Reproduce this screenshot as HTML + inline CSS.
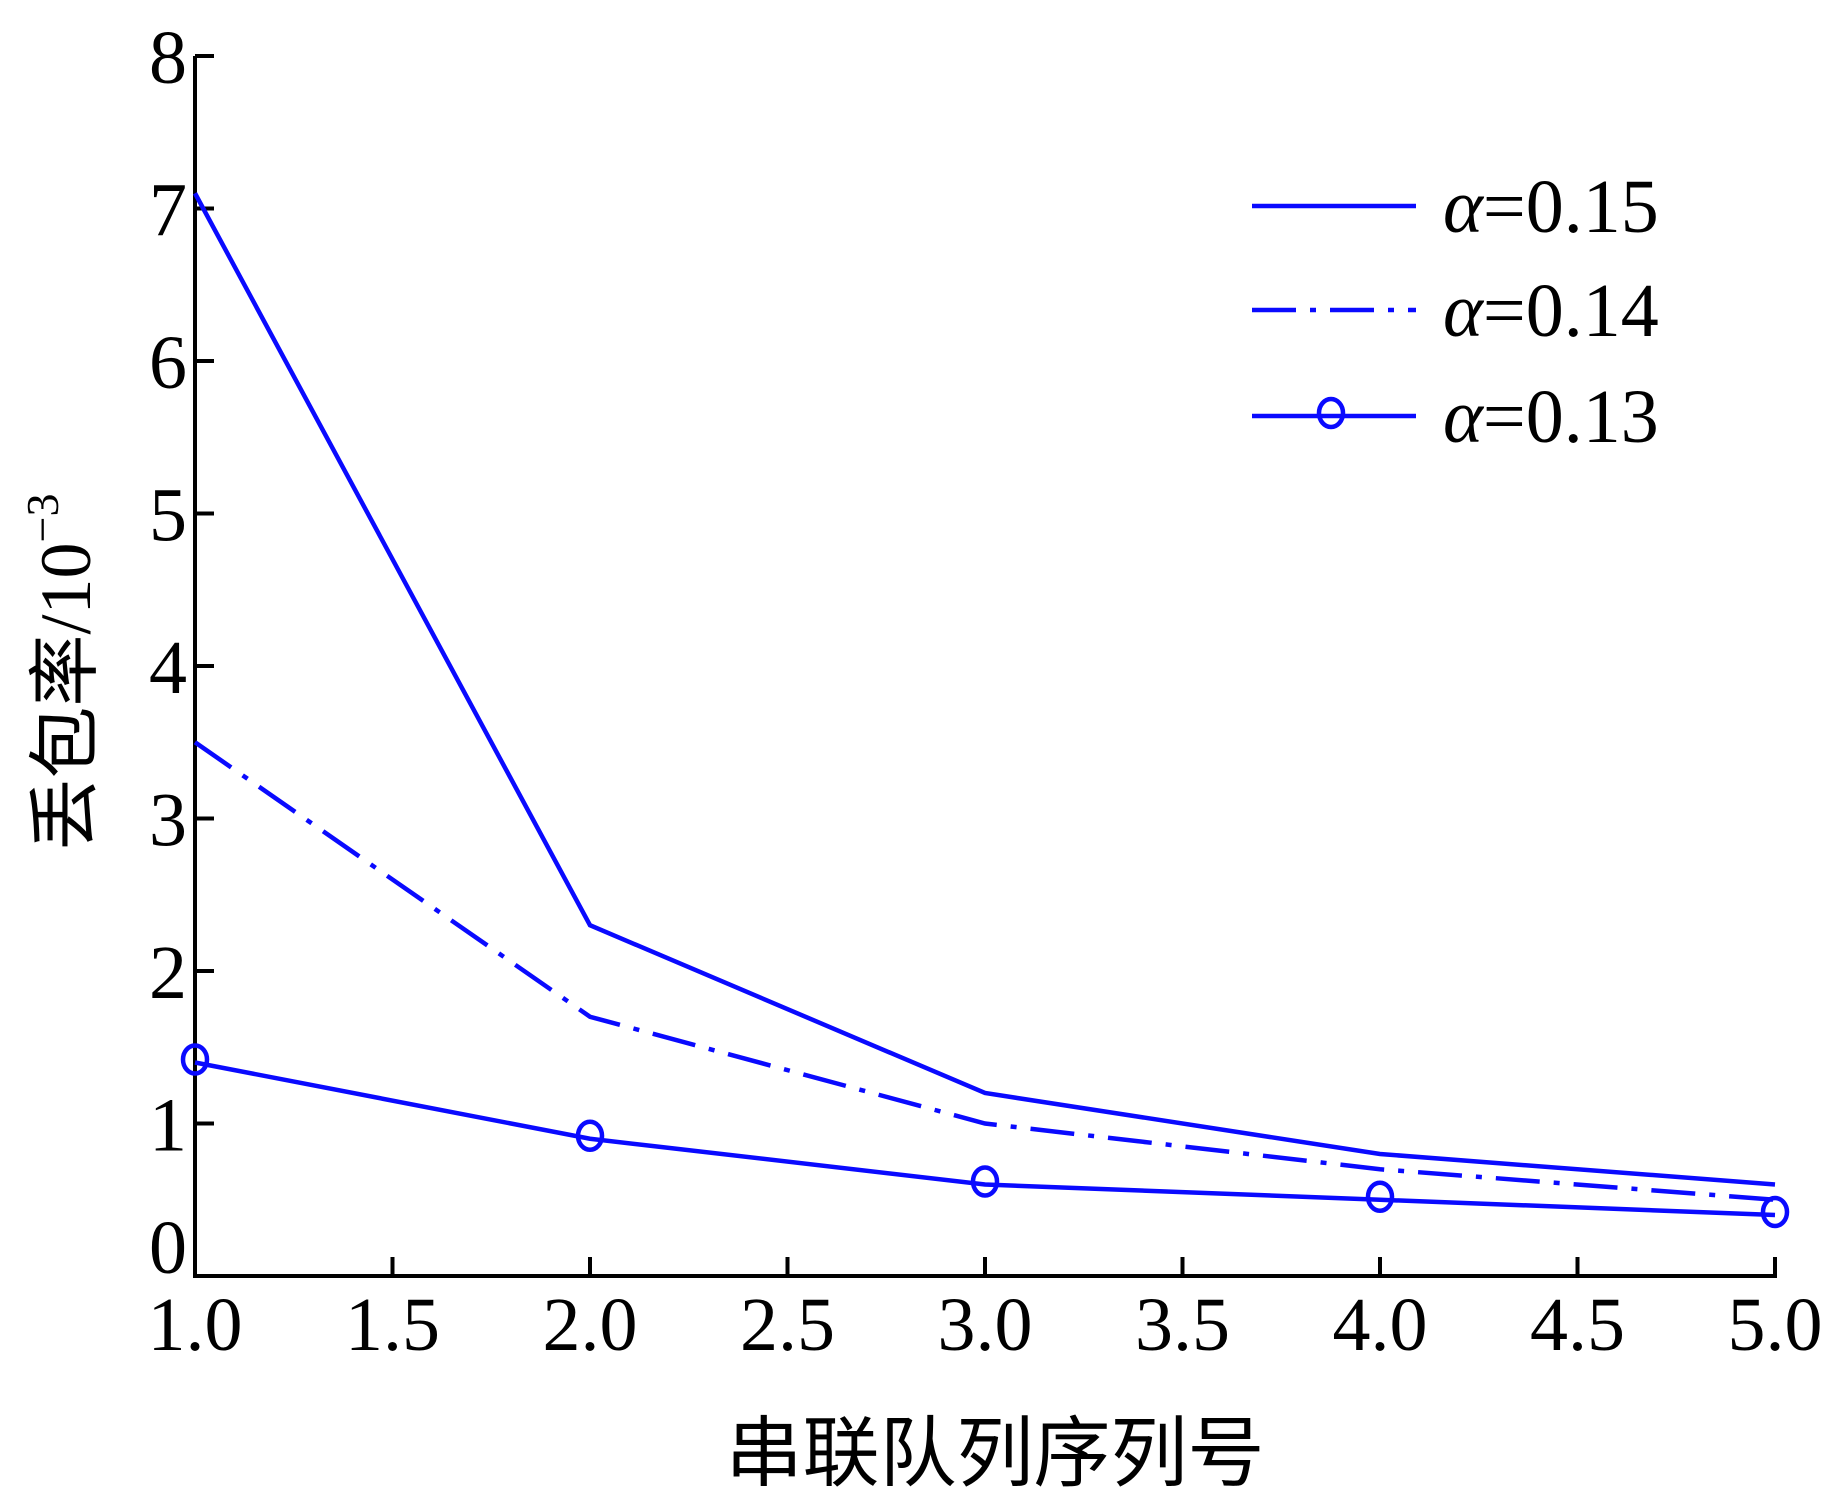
<!DOCTYPE html>
<html><head><meta charset="utf-8"><style>
html,body{margin:0;padding:0;background:#fff}
svg{display:block}
text{font-family:"Liberation Serif","Noto Serif CJK SC",serif;fill:#000}
</style></head><body>
<svg id="chart" width="1832" height="1507" viewBox="0 0 1832 1507" xmlns="http://www.w3.org/2000/svg">
<g id="grid"></g>
<g id="series"></g>
<g id="legend"></g>
<text x="995" y="1480" font-size="77" text-anchor="middle" style="font-family:'Noto Sans CJK SC',sans-serif">串联队列序列号</text>
<text transform="translate(90,672) rotate(-90)" font-size="72" text-anchor="middle"><tspan style="font-family:'Noto Sans CJK SC',sans-serif">丢包率</tspan>/10<tspan font-size="46" dy="-32">−3</tspan></text>
</svg>
<script>
const categories=[1,2,3,4,5];
const s015=[7.1,2.3,1.2,0.8,0.6];
const s014=[3.5,1.7,1.0,0.7,0.5];
const s013=[1.4,0.9,0.6,0.5,0.4];
const xTicks=[1.0,1.5,2.0,2.5,3.0,3.5,4.0,4.5,5.0];
const yTicks=[0,1,2,3,4,5,6,7,8];
const legendLabels=["α=0.15","α=0.14","α=0.13"];

const NS="http://www.w3.org/2000/svg";
const X0=195,X1=1775,Y0=1276,Y1=56;
const xs=v=>X0+(v-1)/4*(X1-X0);
const ys=v=>Y0-v/8*(Y0-Y1);
function mk(tag,attrs,parent){const e=document.createElementNS(NS,tag);for(const k in attrs)e.setAttribute(k,attrs[k]);parent.appendChild(e);return e;}
const grid=document.getElementById('grid');
const series=document.getElementById('series');
const legend=document.getElementById('legend');

let ax=mk('line',{x1:X0,y1:Y0,x2:X1+2,y2:Y0,stroke:'#000','stroke-width':4},grid);


let ay=mk('line',{x1:X0,y1:Y0+2,x2:X0,y2:Y1,stroke:'#000','stroke-width':4},grid);



xTicks.forEach(v=>{
  const x=xs(v);
  const t=mk('line',{x1:x,y1:Y0,x2:x,y2:Y0-19,stroke:'#000','stroke-width':4},grid);
  
  
  const l=mk('text',{x:x,y:1350,'font-size':76,'text-anchor':'middle'},grid);
  l.textContent=v.toFixed(1);
  
  
});
yTicks.forEach(v=>{
  const y=ys(v);
  const t=mk('line',{x1:X0,y1:y,x2:X0+19,y2:y,stroke:'#000','stroke-width':4},grid);
  
  
  const l=mk('text',{x:187,y:y+27-(v===0?30:0),'font-size':76,'text-anchor':'end'},grid);
  l.textContent=v;
  
  
});

const blue='#0a0aff';
const dash='44 14 6 14';
function drawLine(vals,name,da,markers){
  const pts=vals.map((v,i)=>xs(categories[i])+','+ys(v)).join(' ');
  const p=mk('polyline',{points:pts,fill:'none',stroke:blue,'stroke-width':4.5},series);
  if(da)p.setAttribute('stroke-dasharray',da);
  
  
  if(markers)vals.forEach((v,i)=>{
    const c=mk('ellipse',{cx:xs(categories[i]),cy:ys(v)-3,rx:12,ry:14,fill:'none',stroke:blue,'stroke-width':4.5},series);
    
    
  });
}
drawLine(s015,'series-alpha-0-15',null,false);
drawLine(s014,'series-alpha-0-14',dash,false);
drawLine(s013,'series-alpha-0-13',null,true);

const rowsY=[206,310,416];
legendLabels.forEach((lab,i)=>{
  const y=rowsY[i];
  const l=mk('line',{x1:1252,y1:y,x2:1416,y2:y,stroke:blue,'stroke-width':4.5},legend);
  if(i===1)l.setAttribute('stroke-dasharray',dash);
  
  
  if(i===2){
    const c=mk('ellipse',{cx:1331,cy:y-3,rx:12,ry:14,fill:'none',stroke:blue,'stroke-width':4.5},legend);
    
    
  }
  const t=mk('text',{x:1443,y:y+26,'font-size':76},legend);
  t.innerHTML='<tspan font-style="italic">α</tspan>'+lab.slice(1);
  
  
});
</script>
</body></html>
